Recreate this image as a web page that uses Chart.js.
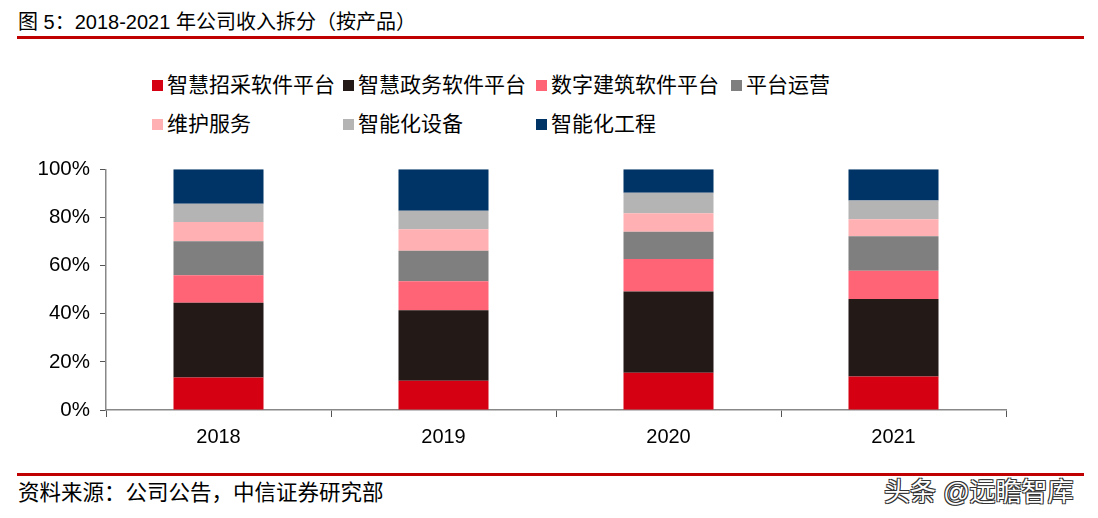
<!DOCTYPE html>
<html>
<head>
<meta charset="utf-8">
<script src="https://cdn.jsdelivr.net/npm/chart.js@4"></script>
<style>
    body { margin: 0; width: 1098px; height: 518px; background: #fff; position: relative; overflow: hidden;
        font-family: "Liberation Sans", "Noto Sans CJK SC", sans-serif; color: #000; }
    #title { position: absolute; left: 18px; top: 9px; font-size: 20px; line-height: 26px; }
    .redline { position: absolute; left: 17px; width: 1067px; height: 3px; background: #c00000; }
    #legend { position: absolute; left: 0; top: 70px; width: 1098px; height: 80px; }
    .item { position: absolute; font-size: 21px; line-height: 26px; white-space: nowrap; }
    .item span { display: inline-block; width: 11px; height: 11px; margin-right: 4px; vertical-align: 1px; }
    #box { position: absolute; left: 0; top: 147px; width: 1098px; height: 313px; }
    #source { position: absolute; left: 18px; top: 480px; font-size: 21.5px; line-height: 27px; }
    #mark { position: absolute; left: 884px; top: 477px; font-size: 26px; line-height: 30px; color: #fff;
        text-shadow: -1px -1px 0 #333, 1px -1px 0 #333, -1px 1px 0 #333, 1px 1px 0 #333; }
</style>
</head>
<body>
<div id="title">图 5：2018-2021 年公司收入拆分（按产品）</div>
<div class="redline" style="top:36px"></div>
<div id="legend"></div>
<div id="box"><canvas id="chart"></canvas></div>
<div class="redline" style="top:473px"></div>
<div id="source">资料来源：公司公告，中信证券研究部</div>
<div id="mark">头条 @远瞻智库</div>

<script>
const years = ["2018", "2019", "2020", "2021"];
const seriesNames = ["智慧招采软件平台", "智慧政务软件平台", "数字建筑软件平台", "平台运营", "维护服务", "智能化设备", "智能化工程"];
const seriesColors = ["#d50012", "#231916", "#ff6376", "#7f7f7f", "#ffb0b3", "#b4b4b4", "#003366"];

// shares in %
const zhaocai = [13.5, 12.2, 15.5, 13.9];
const zhengwu = [31.1, 29.2, 33.7, 32.2];
const jianzhu = [11.4, 12.1, 13.5, 11.8];
const yunying = [14.1, 12.7, 11.4, 14.3];
const weihu = [8.0, 8.9, 7.6, 7.0];
const shebei = [7.6, 7.7, 8.6, 7.8];
const gongcheng = [14.3, 17.2, 9.7, 13.0];
const allSeries = [zhaocai, zhengwu, jianzhu, yunying, weihu, shebei, gongcheng];

const yTicks = [0, 20, 40, 60, 80, 100];

// legend laid out in a grid like the original
const legendCols = [152, 343, 536, 731];
const legend = document.getElementById("legend");
seriesNames.forEach((name, i) => {
    let row = i < 4 ? 0 : 1;
    let col = i < 4 ? i : i - 4;
    let div = document.createElement("div");
    div.className = "item";
    div.style.left = legendCols[col] + "px";
    div.style.top = (row === 0 ? 2 : 41) + "px";
    div.innerHTML = `<span style="background:${seriesColors[i]}"></span>${name}`;
    legend.appendChild(div);
});

const data = {
    labels: years,
    datasets: allSeries.map((values, i) => ({
        label: seriesNames[i],
        data: values,
        backgroundColor: seriesColors[i],
        borderWidth: 0,
        barPercentage: 0.4,
        categoryPercentage: 1
    }))
};

new Chart(document.getElementById("chart"), {
    type: "bar",
    data,
    options: {
        responsive: true,
        maintainAspectRatio: false,
        animation: false,
        layout: { padding: { left: 0, right: 92, top: 16, bottom: 0 } },
        plugins: { legend: { display: false }, tooltip: { enabled: false } },
        scales: {
            x: {
                stacked: true,
                offset: true,
                grid: { offset: true, drawOnChartArea: false, drawTicks: true, tickLength: 7, color: "#555" },
                border: { color: "#888", width: 1.5 },
                ticks: { color: "#000", padding: 8, font: { size: 20, family: "Liberation Sans" } },
                afterFit: (scale) => { scale.height = 50; }
            },
            y: {
                stacked: true,
                min: 0,
                max: 100,
                afterBuildTicks: (scale) => { scale.ticks = yTicks.map(v => ({ value: v })); },
                grid: { drawOnChartArea: false, drawTicks: true, tickLength: 6, color: "#555" },
                border: { color: "#888", width: 1.5 },
                ticks: { color: "#000", padding: 10, font: { size: 20.5, family: "Liberation Sans" }, callback: (v) => v + "%" },
                afterFit: (scale) => { scale.width = 106; }
            }
        }
    }
});
</script>
</body>
</html>
